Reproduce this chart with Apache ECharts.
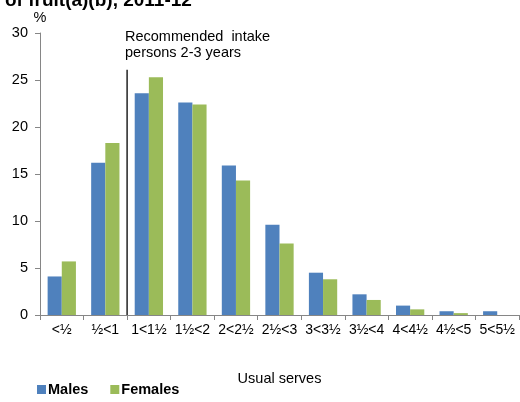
<!DOCTYPE html>
<html><head><meta charset="utf-8">
<script src="https://cdn.jsdelivr.net/npm/echarts@6/dist/echarts.min.js"></script>
<style>html,body{margin:0;padding:0;background:#fff}#c{width:520px;height:402px}</style>
</head><body><div id="c"></div>
<script>
const categories = ['<½','½<1','1<1½','1½<2','2<2½','2½<3','3<3½','3½<4','4<4½','4½<5','5<5½'];
const males =   [4.1, 16.2, 23.6, 22.6, 15.9, 9.6, 4.5, 2.2, 1.0, 0.4, 0.4];
const females = [5.7, 18.3, 25.3, 22.4, 14.3, 7.6, 3.8, 1.6, 0.6, 0.2, 0];
const yTicks = [0, 5, 10, 15, 20, 25, 30];
const recommendLine = [[2, 0], [2, 26.1]];
const titleText = 'of fruit(a)(b), 2011-12';
const noteText = 'Recommended  intake\npersons 2-3 years';

const font = 'Liberation Sans, Arial, sans-serif';
const chart = echarts.init(document.getElementById('c'), null, {renderer: 'canvas'});
chart.setOption({
  animation: false,
  textStyle: {fontFamily: font},
  title: {text: titleText, left: 0, top: -14, textStyle: {fontSize: 19, fontWeight: 'bold', color: '#000', fontFamily: font}},
  grid: {left: 40, right: 1, top: 33, bottom: 87, containLabel: false},
  legend: {
    left: 32, bottom: 0, itemWidth: 9, itemHeight: 9, itemGap: 22, icon: 'rect',
    textStyle: {fontSize: 14.5, fontWeight: 'bold', color: '#000', fontFamily: font, padding: [0,0,0,-3]},
    data: ['Males', 'Females']
  },
  xAxis: [{
    type: 'category', data: categories,
    axisLine: {lineStyle: {color: '#868686'}},
    axisTick: {show: true, alignWithLabel: false, length: 5, lineStyle: {color: '#868686'}},
    axisLabel: {color: '#000', fontSize: 14, margin: 8, interval: 0},
    name: 'Usual serves', nameLocation: 'middle', nameGap: 56,
    nameTextStyle: {color: '#000', fontSize: 14.5}
  }, {
    type: 'value', min: 0, max: 11, show: false
  }],
  yAxis: {
    type: 'value', min: 0, max: 30, interval: 5,
    name: '%', nameGap: 8, nameTextStyle: {color: '#000', fontSize: 14.5, align: 'center'},
    axisLine: {show: true, lineStyle: {color: '#868686'}},
    axisTick: {show: true, length: 5, lineStyle: {color: '#868686'}},
    splitLine: {show: false},
    axisLabel: {color: '#000', fontSize: 14.5, margin: 12,
      formatter: v => yTicks.includes(v) ? String(v) : ''}
  },
  series: [
    {name: 'Males', type: 'bar', data: males, barGap: '0%', barCategoryGap: '35%',
     itemStyle: {color: '#4F81BD'}},
    {name: 'Females', type: 'bar', data: females, barGap: '0%', barCategoryGap: '35%',
     itemStyle: {color: '#9BBB59'}},
    {name: 'rec', type: 'line', xAxisIndex: 1, data: recommendLine, symbol: 'none',
     lineStyle: {color: '#000', width: 1.3}, silent: true, z: 5}
  ],
  graphic: [{
    type: 'text', left: 125, top: 29,
    style: {text: noteText, fill: '#000', font: '14.5px ' + font, lineHeight: 16}
  }]
});
</script></body></html>
